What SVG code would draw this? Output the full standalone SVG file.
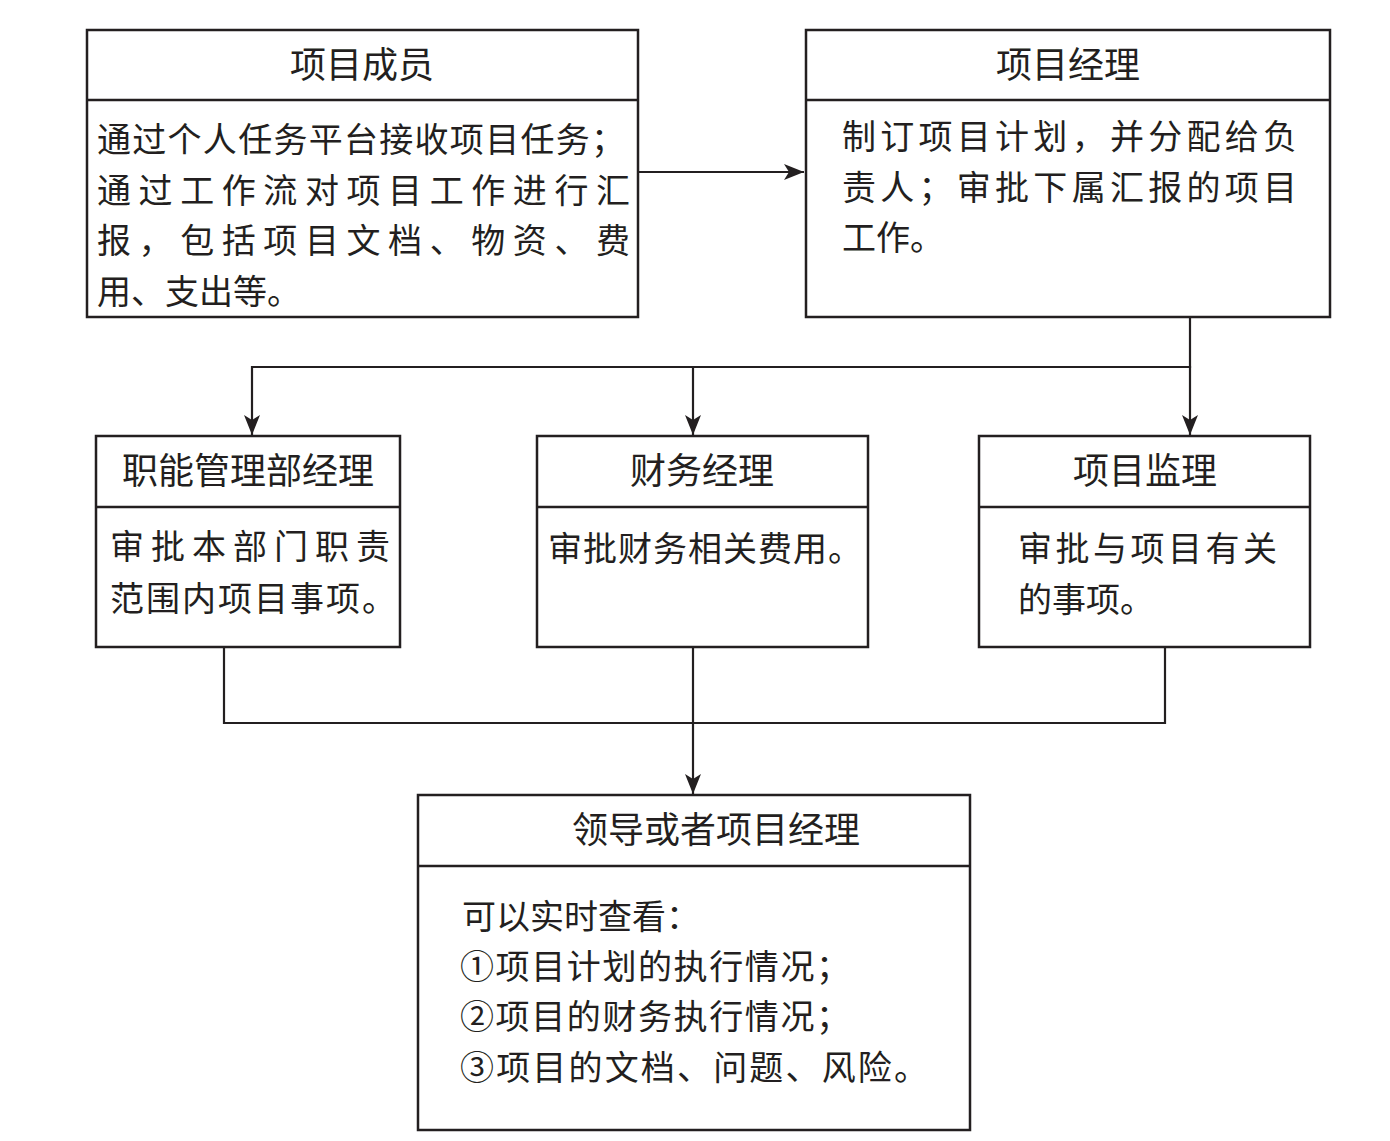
<svg xmlns="http://www.w3.org/2000/svg" width="1390" height="1141" viewBox="0 0 1390 1141">
<style>
.box{fill:#fff;stroke:#231f20;stroke-width:2.5}
.div{stroke:#231f20;stroke-width:2.5}
.t{font-family:"Noto Sans CJK SC","Liberation Serif",serif;font-size:34px;fill:#231f20}
.c{text-anchor:middle;font-size:36px}
.ln{fill:none;stroke:#231f20;stroke-width:2.2}
</style>
<defs>
<marker id="ah" viewBox="0 0 20 16" refX="20" refY="8" markerWidth="20" markerHeight="16" markerUnits="userSpaceOnUse" orient="auto">
<path d="M0,0 L20,8 L0,16 L5,8 Z" fill="#231f20"/>
</marker>
</defs>
<rect width="1390" height="1141" fill="#fff"/>
<g id="connectors">
<line class="ln" x1="638" y1="172" x2="804" y2="172" marker-end="url(#ah)"/>
<polyline class="ln" points="1190,317 1190,367 252,367"/>
<line class="ln" x1="252" y1="366" x2="252" y2="435" marker-end="url(#ah)"/>
<line class="ln" x1="693" y1="367" x2="693" y2="435" marker-end="url(#ah)"/>
<line class="ln" x1="1190" y1="366" x2="1190" y2="435" marker-end="url(#ah)"/>
<polyline class="ln" points="224,647 224,723 1165,723 1165,647"/>
<line class="ln" x1="693" y1="647" x2="693" y2="794" marker-end="url(#ah)"/>
</g>
<g id="member">
<rect class="box" x="87" y="30" width="551" height="287"/>
<line class="div" x1="87" y1="100" x2="638" y2="100"/>
<text class="t c" x="362" y="78">项目成员</text>
<text class="t" x="97" y="152" textLength="528" lengthAdjust="spacing">通过个人任务平台接收项目任务；</text>
<text class="t" x="97" y="203" textLength="533" lengthAdjust="spacing">通过工作流对项目工作进行汇</text>
<text class="t" x="97" y="253" textLength="533" lengthAdjust="spacing">报，包括项目文档、物资、费</text>
<text class="t" x="97" y="304">用、支出等。</text>
</g>
<g id="pm">
<rect class="box" x="806" y="30" width="524" height="287"/>
<line class="div" x1="806" y1="100" x2="1330" y2="100"/>
<text class="t c" x="1068" y="78">项目经理</text>
<text class="t" x="842" y="149" textLength="455" lengthAdjust="spacing">制订项目计划，并分配给负</text>
<text class="t" x="842" y="200" textLength="455" lengthAdjust="spacing">责人；审批下属汇报的项目</text>
<text class="t" x="842" y="250" textLength="102" lengthAdjust="spacing">工作。</text>
</g>
<g id="func">
<rect class="box" x="96" y="436" width="304" height="211"/>
<line class="div" x1="96" y1="507" x2="400" y2="507"/>
<text class="t c" x="248" y="484">职能管理部经理</text>
<text class="t" x="110" y="559" textLength="280" lengthAdjust="spacing">审批本部门职责</text>
<text class="t" x="110" y="611" textLength="286" lengthAdjust="spacing">范围内项目事项。</text>
</g>
<g id="finance">
<rect class="box" x="537" y="436" width="331" height="211"/>
<line class="div" x1="537" y1="507" x2="868" y2="507"/>
<text class="t c" x="702" y="484">财务经理</text>
<text class="t" x="548" y="561" textLength="314" lengthAdjust="spacing">审批财务相关费用。</text>
</g>
<g id="supervisor">
<rect class="box" x="979" y="436" width="331" height="211"/>
<line class="div" x1="979" y1="507" x2="1310" y2="507"/>
<text class="t c" x="1145" y="484">项目监理</text>
<text class="t" x="1018" y="561" textLength="259" lengthAdjust="spacing">审批与项目有关</text>
<text class="t" x="1018" y="612">的事项。</text>
</g>
<g id="leader">
<rect class="box" x="418" y="795" width="552" height="335"/>
<line class="div" x1="418" y1="866" x2="970" y2="866"/>
<text class="t c" x="716" y="843">领导或者项目经理</text>
<text class="t" x="462" y="929">可以实时查看：</text>
<text class="t" x="460" y="979" textLength="390" lengthAdjust="spacing">①项目计划的执行情况；</text>
<text class="t" x="460" y="1029" textLength="390" lengthAdjust="spacing">②项目的财务执行情况；</text>
<text class="t" x="460" y="1080" textLength="468" lengthAdjust="spacing">③项目的文档、问题、风险。</text>
</g>
</svg>
